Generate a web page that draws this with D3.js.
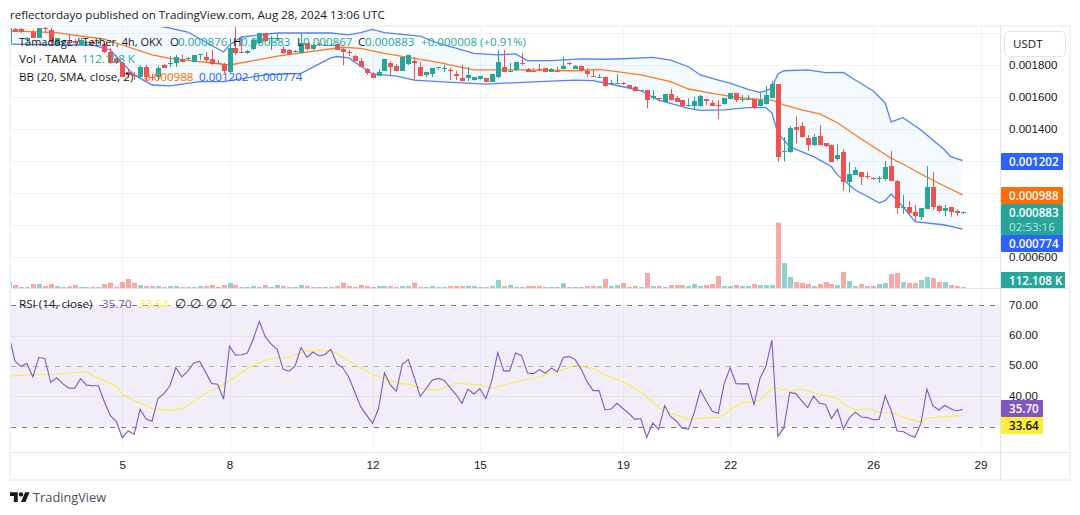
<!DOCTYPE html>
<html>
<head>
<meta charset="utf-8">
<script src="https://cdn.jsdelivr.net/npm/d3@7/dist/d3.min.js"></script>
<style>
  html, body { margin: 0; padding: 0; background: #fff; overflow: hidden; }
  svg { display: block; font-family: "Open Sans", "Noto Sans", sans-serif; }
  text { font-size: 11.6px; fill: #131722; }
</style>
</head>
<body>
<svg id="chart" width="1080" height="515"></svg>
<script>
// TAMA/USDT, 4h candles. Prices are in millionths of a USDT.
const opens = [
  1938,2028,2028,1956,2006,1969,2031,2019,1925,1944,
  1956,1950,1925,1938,1944,1938,1931,1881,1844,1813,
  1756,1738,1725,1788,1728,1725,1803,1806,1813,1838,
  1839,1819,1861,1850,1838,1813,1806,1756,1906,1881,
  1878,1900,1938,2000,1963,1963,1900,1894,1881,1875,
  1938,1900,1934,1920,1920,1931,1900,1881,1856,1827,
  1775,1744,1733,1764,1814,1794,1764,1806,1825,1789,
  1738,1744,1781,1772,1769,1744,1719,1719,1706,1711,
  1717,1694,1727,1788,1758,1769,1813,1775,1764,1775,
  1781,1758,1764,1775,1810,1775,1794,1764,1731,1721,
  1727,1684,1684,1688,1675,1664,1639,1644,1596,1592,
  1571,1619,1594,1581,1544,1544,1544,1586,1561,1550,
  1556,1588,1625,1583,1583,1588,1544,1556,1596,1681,
  1258,1256,1411,1419,1344,1300,1356,1311,1300,1213,
  1256,1069,1114,1131,1108,1091,1086,1088,1169,1075,
  905,913,881,850,902,1038,919,889,913,888,876];
const highs = [
  2038,2031,2031,1975,2019,2031,2038,2031,1969,1956,
  1988,1963,1969,1950,1950,1950,1944,1906,1856,1819,
  1769,1756,1800,1800,1744,1794,1806,1856,1863,1863,
  1850,1863,1869,1881,1894,1831,1813,1969,2038,1969,
  1894,1969,2000,2000,1981,1994,1919,1900,1894,2000,
  1938,1931,1938,1931,1931,1938,1906,1894,1863,1844,
  1781,1756,1775,1838,1822,1806,1852,1863,1850,1819,
  1756,1781,1788,1800,1783,1764,1800,1788,1725,1731,
  1719,1744,1894,1894,1813,1819,1875,1781,1781,1806,
  1781,1781,1789,1852,1819,1800,1797,1779,1773,1744,
  1728,1706,1742,1692,1675,1669,1644,1644,1644,1594,
  1619,1650,1606,1583,1592,1600,1613,1588,1581,1581,
  1594,1625,1625,1613,1613,1588,1627,1669,1700,1681,
  1350,1419,1481,1442,1362,1369,1425,1312,1303,1306,
  1273,1194,1161,1131,1133,1098,1106,1200,1263,1081,
  988,950,925,906,1169,1131,925,925,913,897,883];
const lows = [
  1938,2006,2000,1944,1969,1969,2000,1931,1919,1931,
  1931,1919,1919,1925,1919,1931,1875,1806,1806,1725,
  1719,1706,1719,1706,1706,1706,1781,1788,1788,1819,
  1831,1819,1831,1819,1800,1806,1750,1750,1863,1875,
  1869,1894,1931,1944,1894,1950,1869,1863,1878,1875,
  1894,1894,1919,1919,1919,1894,1800,1856,1825,1787,
  1738,1719,1731,1763,1738,1763,1763,1800,1702,1731,
  1725,1725,1769,1756,1706,1706,1697,1700,1703,1709,
  1691,1694,1719,1756,1756,1763,1800,1756,1756,1766,
  1756,1756,1756,1773,1800,1775,1754,1723,1725,1719,
  1664,1681,1681,1675,1656,1634,1638,1529,1581,1571,
  1569,1578,1569,1541,1541,1519,1541,1550,1544,1462,
  1553,1584,1569,1569,1581,1525,1541,1553,1594,1196,
  1196,1250,1312,1347,1264,1294,1297,1288,1194,1202,
  1014,1002,1113,1050,1086,1081,1064,1077,1073,869,
  869,869,825,831,900,894,877,856,852,856,867];
const closes = [
  2031,2009,2009,1966,1969,2031,2025,1944,1969,1950,
  1950,1938,1956,1944,1931,1944,1881,1813,1813,1725,
  1738,1733,1788,1725,1722,1781,1781,1813,1850,1819,
  1844,1863,1866,1831,1806,1808,1763,1906,1875,1876,
  1888,1956,2000,1950,1969,1969,1875,1869,1888,1938,
  1900,1925,1922,1925,1925,1894,1881,1876,1825,1789,
  1750,1721,1756,1838,1789,1764,1852,1863,1810,1733,
  1756,1781,1785,1781,1764,1733,1698,1738,1723,1731,
  1694,1744,1819,1758,1764,1819,1807,1758,1759,1770,
  1758,1775,1758,1794,1804,1794,1769,1744,1727,1727,
  1671,1688,1688,1681,1658,1639,1644,1581,1604,1588,
  1619,1581,1571,1544,1548,1577,1606,1575,1544,1546,
  1594,1625,1581,1588,1588,1531,1581,1613,1681,1227,
  1263,1406,1396,1350,1300,1350,1300,1294,1196,1238,
  1069,1119,1144,1102,1102,1086,1091,1163,1075,908,
  911,875,856,906,1038,913,888,906,881,875,883];

// Traded volume per candle, in thousands of TAMA.
const volumes = [
  673,336,112,112,448,448,224,448,224,112,
  187,336,112,112,112,112,448,598,112,673,
  1009,598,336,224,224,224,112,224,224,112,
  112,112,224,224,336,112,336,561,336,112,
  112,224,112,336,112,336,224,112,112,336,
  224,112,112,112,112,224,598,224,112,336,
  224,112,224,224,224,112,224,224,598,112,
  112,224,112,112,224,224,224,224,224,112,
  112,224,897,224,336,112,112,224,224,224,
  112,112,112,561,112,112,112,224,224,224,
  1009,224,336,561,112,224,112,1682,224,224,
  112,336,336,336,224,448,224,336,448,1345,
  224,224,336,224,224,448,336,336,336,7325,
  2803,1233,673,561,448,224,448,673,448,336,
  1794,785,224,448,224,224,448,561,1570,1682,
  673,561,561,897,1233,1121,673,673,336,224,112.108];

// RSI (14, close), one value per candle.
const rsi = [
  60.1,51.7,49.9,50.8,46.4,52.8,52.5,44.6,46.1,44.2,
  42.8,42.6,45.8,43.7,43.5,43.5,38.2,33.6,31.8,26.4,
  28.6,27.5,35.7,32.5,31.8,39.3,40.9,43.5,49.5,46.4,
  48.3,51.0,51.5,47.9,44.2,44.0,39.1,56.5,53.6,53.7,
  54.3,59.0,64.7,59.6,57.2,55.4,48.9,48.3,50.0,56.1,
  52.8,54.6,53.3,53.8,55.5,50.8,49.4,46.4,41.5,36.6,
  33.8,31.1,36.0,47.7,43.7,41.7,50.6,52.1,46.2,40.0,
  42.6,45.3,45.9,45.3,42.9,40.6,37.7,42.4,40.8,42.5,
  39.3,45.1,54.4,48.4,48.4,54.3,53.4,47.7,47.5,48.8,
  47.6,49.3,48.1,52.8,53.1,52.1,48.9,44.8,41.9,41.9,
  35.5,35.8,37.7,36.0,34.4,32.4,32.7,26.5,31.2,29.1,
  36.9,33.3,31.8,29.4,29.2,34.9,42.0,38.4,35.1,34.4,
  44.2,49.4,44.2,44.1,44.1,37.3,45.9,49.9,58.5,26.9,
  29.6,41.3,40.9,38.5,36.3,40.1,37.7,37.3,32.7,35.7,
  29.2,32.9,34.8,33.2,33.0,32.3,32.4,40.1,35.5,28.6,
  28.4,27.3,26.5,31.1,42.4,36.9,35.5,37.0,35.9,35.2,35.70];

// Smoothed lines, given at the candles where they change direction.
const rsiMaBars = [0,4,8,13,14,18,19,21,24,27,29,30,33,36,38,40,43,45,47,50,54,55,58,61,64,66,67,70,72,75,78,79,81,86,88,92,95,98,100,103,106,109,111,114,117,119,120,121,123,126,127,128,131,133,136,139,140,142,144,146,148,151,153,154,156,160];
const rsiMa = [46.6,47.2,47.3,48.2,46.8,43.4,40.6,38.6,36.0,35.3,36.0,37.1,40.9,43.9,46.4,49.2,51.9,52.8,52.8,55.0,54.9,54.1,50.5,47.3,45.1,44.2,44.0,42.3,42.1,44.3,43.9,43.9,42.6,45.3,45.9,48.1,50.3,49.2,47.0,44.8,41.5,36.2,34.4,32.5,32.9,33.0,34.0,35.7,37.9,38.7,40.4,43.0,41.7,42.5,40.7,39.3,37.6,35.4,36.0,34.7,34.7,32.5,31.6,32.7,33.2,33.64];

const bbUpperBars = [0,15,24,27,30,33,36,37,39,45,54,57,59,61,63,65,69,72,76,78,82,85,87,91,96,100,103,108,111,114,116,119,121,124,126,127,128,129,130,134,137,140,142,145,147,148,150,153,157,158,160];
const bbUpper = [2144,2119,2050,2031,2006,1944,1881,1925,1975,2000,2000,1988,2002,2023,2002,1994,1981,1936,1894,1873,1863,1869,1827,1827,1838,1836,1839,1848,1831,1789,1738,1706,1686,1648,1629,1638,1656,1744,1764,1769,1752,1754,1706,1638,1563,1444,1471,1394,1269,1227,1202];
const bbBasisBars = [0,8,16,19,24,27,37,41,45,56,59,63,67,72,78,82,86,95,99,102,106,111,114,118,122,125,128,130,133,136,139,142,145,148,150,153,156,160];
const bbBasis = [2014,2002,1961,1925,1863,1842,1800,1827,1856,1911,1904,1873,1848,1817,1769,1769,1769,1764,1773,1758,1738,1696,1650,1623,1598,1588,1581,1550,1519,1494,1439,1363,1289,1217,1181,1119,1061,988];
const bbLowerBars = [0,10,14,17,19,21,24,27,32,36,43,49,54,55,57,60,61,65,68,72,80,89,95,98,103,106,109,114,116,120,124,127,128,129,131,135,138,139,142,146,147,148,150,152,157,160];
const bbLower = [1931,1925,1925,1894,1813,1738,1675,1669,1696,1696,1738,1748,1844,1853,1844,1769,1744,1731,1706,1696,1681,1696,1706,1702,1664,1639,1581,1529,1516,1519,1533,1533,1500,1375,1288,1227,1164,1113,1019,939,952,994,914,821,800,774];

// Axis ticks.
const dayBars = [19,37,61,79,103,121,145,163];
const dayLabels = ["5","8","12","15","19","22","26","29"];
const priceGrid = [2000,1800,1600,1400,1200,1000,800,600];
const priceTicks = [1800,1600,1400,600];
const rsiTicks = [70,60,50,40];

const UP = "#26a69a", DOWN = "#ef5350", BLUE = "#2962ff", ORANGE = "#ff6d00",
      PURPLE = "#7e57c2", YELLOW = "#ffeb3b", GRID = "#f0f3fa", RULE = "#e0e3eb";
const PLOT = {left: 11, right: 1000, top: 27, paneSplit: 288, bottom: 452};

const last = closes.length - 1;
const fmtPrice = v => (v * 1e-6).toFixed(6);
const change = closes[last] - closes[last - 1];
const changePct = change / closes[last - 1] * 100;

const x = d3.scaleLinear().domain([0, 163]).range([9, 980.5]);
const yPrice = d3.scaleLinear().domain([600, 1800]).range([257, 65]);
const yVol = d3.scaleLinear().domain([0, 7325]).range([288, 222.7]);
const yRsi = d3.scaleLinear().domain([30, 70]).range([426.7, 305.3]);

const svg = d3.select("#chart");
const defs = svg.append("defs");
defs.append("clipPath").attr("id", "mainClip").append("rect")
  .attr("x", PLOT.left).attr("y", PLOT.top)
  .attr("width", PLOT.right - PLOT.left).attr("height", PLOT.paneSplit - PLOT.top);
defs.append("clipPath").attr("id", "rsiClip").append("rect")
  .attr("x", PLOT.left).attr("y", PLOT.paneSplit)
  .attr("width", PLOT.right - PLOT.left).attr("height", PLOT.bottom - PLOT.paneSplit);
defs.append("clipPath").attr("id", "belowThirty").append("rect")
  .attr("x", PLOT.left).attr("y", yRsi(30))
  .attr("width", PLOT.right - PLOT.left).attr("height", PLOT.bottom - yRsi(30));

// Panel backdrop and grid
const grid = svg.append("g");
grid.selectAll("line.day").data(dayBars).join("line")
  .attr("x1", d => Math.round(x(d)) + 0.5).attr("x2", d => Math.round(x(d)) + 0.5)
  .attr("y1", PLOT.top).attr("y2", PLOT.bottom)
  .attr("stroke", GRID);
grid.selectAll("line.price").data(priceGrid).join("line")
  .attr("x1", PLOT.left).attr("x2", PLOT.right)
  .attr("y1", d => Math.round(yPrice(d)) + 0.5).attr("y2", d => Math.round(yPrice(d)) + 0.5)
  .attr("stroke", GRID);

// Bollinger Bands
const pts = (bars, vals) => bars.map((b, k) => [b, vals[k]]);
const priceLine = d3.line().x(d => x(d[0])).y(d => yPrice(d[1]));
const main = svg.append("g").attr("clip-path", "url(#mainClip)");
const upperPts = pts(bbUpperBars, bbUpper);
const lowerPts = pts(bbLowerBars, bbLower);
main.append("path")
  .attr("d", priceLine(upperPts) + "L" + priceLine(lowerPts.slice().reverse()).slice(1) + "Z")
  .attr("fill", "#2196f3").attr("fill-opacity", 0.05);

// Volume histogram
main.selectAll("rect.vol").data(volumes).join("rect")
  .attr("class", "vol")
  .attr("x", (d, i) => Math.round(x(i)) - 2)
  .attr("width", 5)
  .attr("y", d => yVol(d))
  .attr("height", d => yVol(0) - yVol(d))
  .attr("fill", (d, i) => closes[i] >= opens[i] ? UP : DOWN)
  .attr("fill-opacity", 0.5);

[[upperPts, BLUE, 0.8], [pts(bbBasisBars, bbBasis), ORANGE, 0.9], [lowerPts, BLUE, 0.8]].forEach(([p, c, o]) => {
  main.append("path").attr("d", priceLine(p))
    .attr("fill", "none").attr("stroke", c).attr("stroke-width", 1.3).attr("stroke-opacity", o);
});

// Candles
const candles = main.selectAll("g.candle").data(closes).join("g").attr("class", "candle")
  .attr("fill", (d, i) => d >= opens[i] ? UP : DOWN);
candles.append("rect")
  .attr("x", (d, i) => Math.round(x(i)))
  .attr("width", 1)
  .attr("y", (d, i) => yPrice(highs[i]))
  .attr("height", (d, i) => yPrice(lows[i]) - yPrice(highs[i]));
candles.append("rect")
  .attr("x", (d, i) => Math.round(x(i)) - 2)
  .attr("width", 5)
  .attr("y", (d, i) => Math.round(yPrice(Math.max(d, opens[i]))))
  .attr("height", (d, i) => Math.max(1, Math.round(yPrice(Math.min(d, opens[i]))) - Math.round(yPrice(Math.max(d, opens[i])))));

// RSI pane
const rsiPane = svg.append("g");
rsiPane.append("rect")
  .attr("x", PLOT.left).attr("width", PLOT.right - PLOT.left)
  .attr("y", yRsi(70)).attr("height", yRsi(30) - yRsi(70))
  .attr("fill", PURPLE).attr("fill-opacity", 0.1);
[60, 40].forEach(v => rsiPane.append("line")
  .attr("x1", PLOT.left).attr("x2", PLOT.right)
  .attr("y1", Math.round(yRsi(v)) + 0.5).attr("y2", Math.round(yRsi(v)) + 0.5)
  .attr("stroke", "#131722").attr("stroke-opacity", 0.06));
[[70, "#787b86"], [50, "rgba(120,123,134,0.55)"], [30, "#787b86"]].forEach(([v, c]) => rsiPane.append("line")
  .attr("x1", PLOT.left).attr("x2", PLOT.right)
  .attr("y1", Math.round(yRsi(v)) + 0.5).attr("y2", Math.round(yRsi(v)) + 0.5)
  .attr("stroke", c).attr("stroke-dasharray", "5 6"));

const rsiClipped = rsiPane.append("g").attr("clip-path", "url(#rsiClip)");
rsiClipped.append("g").attr("clip-path", "url(#belowThirty)").append("path")
  .attr("d", d3.area().x((d, i) => x(i)).y0(yRsi(30)).y1(d => yRsi(d))(rsi))
  .attr("fill", "#ef5350").attr("fill-opacity", 0.08);
rsiClipped.append("path")
  .attr("d", d3.line().x(d => x(d[0])).y(d => yRsi(d[1]))(pts(rsiMaBars, rsiMa)))
  .attr("fill", "none").attr("stroke", YELLOW).attr("stroke-width", 1.1);
rsiClipped.append("path")
  .attr("d", d3.line().x((d, i) => x(i)).y(d => yRsi(d))(rsi))
  .attr("fill", "none").attr("stroke", PURPLE).attr("stroke-width", 1.1);

// Frame rules
const frame = svg.append("g");
frame.append("rect").attr("x", 10).attr("y", 26).attr("width", 1060).attr("height", 454)
  .attr("fill", "none").attr("stroke", GRID).attr("stroke-width", 2);
frame.append("line").attr("x1", PLOT.left).attr("x2", 1069).attr("y1", 288.5).attr("y2", 288.5).attr("stroke", RULE);
frame.append("line").attr("x1", PLOT.left).attr("x2", 1069).attr("y1", 452.5).attr("y2", 452.5).attr("stroke", RULE);
frame.append("line").attr("x1", 1000.5).attr("x2", 1000.5).attr("y1", 27).attr("y2", 479).attr("stroke", RULE);

// Axes
const stripAxis = g => {
  g.select(".domain").remove();
  g.selectAll(".tick line").remove();
  g.selectAll("text").style("font-size", "11.6px").style("fill", "#131722");
};
svg.append("g").attr("transform", "translate(0,452)")
  .call(d3.axisBottom(x).tickValues(dayBars).tickFormat((d, k) => dayLabels[k]).tickSize(0).tickPadding(9))
  .call(stripAxis);
svg.append("g").attr("transform", "translate(1009,0)")
  .call(d3.axisRight(yPrice).tickValues(priceTicks).tickFormat(fmtPrice).tickSize(0).tickPadding(0))
  .call(stripAxis);
svg.append("g").attr("transform", "translate(1009,-1)")
  .call(d3.axisRight(yRsi).tickValues(rsiTicks).tickFormat(d => d.toFixed(2)).tickSize(0).tickPadding(0))
  .call(stripAxis);

// Currency button
svg.append("rect").attr("x", 1004.5).attr("y", 31.5).attr("width", 61).attr("height", 25).attr("rx", 4)
  .attr("fill", "#fff").attr("stroke", RULE);
svg.append("text").attr("x", 1013).attr("y", 48).text("USDT");

// Value tags on the price scale
const tag = (top, h, w, bg, label, fg, sub) => {
  svg.append("rect").attr("x", 1001).attr("y", top).attr("width", w).attr("height", h)
    .attr("rx", 1).attr("fill", bg);
  svg.append("text").attr("x", 1009).attr("y", top + 12.5).text(label)
    .style("fill", fg).style("font-weight", 600);
  if (sub) svg.append("text").attr("x", 1009).attr("y", top + 26.5).text(sub)
    .style("fill", fg).style("fill-opacity", 0.7);
};
tag(153, 17, 62, BLUE, fmtPrice(bbUpper[bbUpper.length - 1]), "#fff");
tag(187, 17, 62, ORANGE, fmtPrice(bbBasis[bbBasis.length - 1]), "#fff");
tag(204, 31, 62, UP, fmtPrice(closes[last]), "#fff", "02:53:16");
tag(235, 17, 62, BLUE, fmtPrice(bbLower[bbLower.length - 1]), "#fff");
tag(272, 16, 64, UP, d3.format(".3f")(volumes[last]) + " K", "#fff");
tag(400, 17, 42, PURPLE, rsi[last].toFixed(2), "#fff");
tag(417, 17, 42, YELLOW, rsiMa[rsiMa.length - 1].toFixed(2), "#131722");

// Legend rows
const label = (px, py, str, color) => svg.append("text").attr("x", px).attr("y", py).text(str)
  .style("fill", color || "#131722");
label(19, 46, "Tamadoge / Tether, 4h, OKX").attr("textLength", 143).attr("lengthAdjust", "spacingAndGlyphs");
label(170, 46, "O"); label(178, 46, fmtPrice(opens[last]), UP);
label(233, 46, "H"); label(241, 46, fmtPrice(highs[last]), UP);
label(297, 46, "L"); label(303, 46, fmtPrice(lows[last]), UP);
label(358, 46, "C"); label(365, 46, fmtPrice(closes[last]), UP);
label(421, 46, "+" + fmtPrice(change), UP);
label(480, 46, "(+" + changePct.toFixed(2) + "%)", UP);
label(19, 63, "Vol · TAMA");
label(82, 63, d3.format(".3f")(volumes[last]) + " K", UP);
label(19, 81, "BB (20, SMA, close, 2)");
label(144, 81, fmtPrice(bbBasis[bbBasis.length - 1]), ORANGE);
label(199, 81, fmtPrice(bbUpper[bbUpper.length - 1]), BLUE);
label(253, 81, fmtPrice(bbLower[bbLower.length - 1]), BLUE);
label(19, 308, "RSI (14, close)");
label(102, 308, rsi[last].toFixed(2), PURPLE);
label(139, 308, rsiMa[rsiMa.length - 1].toFixed(2), YELLOW);
["∅", "∅", "∅", "∅"].forEach((s, k) => label(175 + k * 15.4, 308, s, "#131722").style("font-size", "13px"));

// Publication header and wordmark
label(10, 19, "reflectordayo published on TradingView.com, Aug 28, 2024 13:06 UTC");
const logo = svg.append("g").attr("transform", "translate(10,490) scale(0.55)").attr("fill", "#131722");
logo.append("path").attr("d", "M14 22H7V11H0V4h14v18zM28 22h-8l7.5-18h8L28 22z");
logo.append("circle").attr("cx", 20).attr("cy", 8).attr("r", 4);
label(33, 501.5, "TradingView", "#4a4f5c").style("font-size", "12.8px");
</script>
</body>
</html>
